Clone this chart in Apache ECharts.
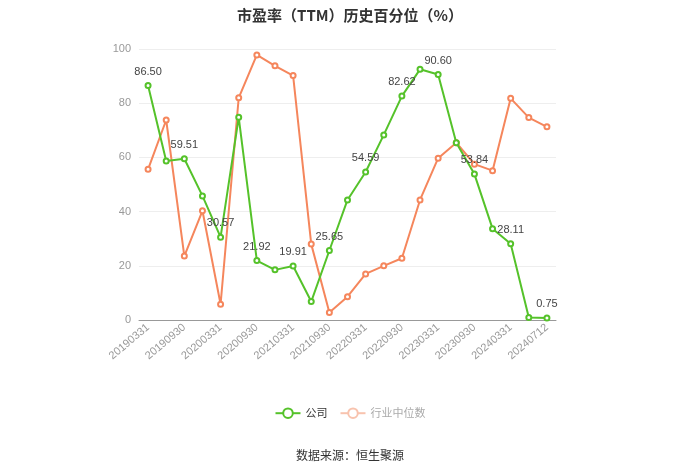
<!DOCTYPE html>
<html>
<head>
<meta charset="utf-8">
<script src="https://cdn.jsdelivr.net/npm/echarts@6/dist/echarts.min.js"></script>
<style>
  html, body { margin: 0; padding: 0; background: #fff; }
  #main { width: 700px; height: 474px; }
</style>
</head>
<body>
<div id="main"></div>
<script>
var dates = ['20190331','20190630','20190930','20191231','20200331','20200630','20200930','20201231',
  '20210331','20210630','20210930','20211231','20220331','20220630','20220930','20221231',
  '20230331','20230630','20230930','20231231','20240331','20240630','20240712'];
var company = [86.50, 58.7, 59.51, 45.8, 30.57, 74.8, 21.92, 18.5, 19.91, 6.8, 25.65, 44.3,
  54.59, 68.3, 82.62, 92.5, 90.60, 65.4, 53.84, 33.7, 28.11, 0.9, 0.75];
var industry = [55.6, 73.8, 23.6, 40.3, 5.8, 82.0, 97.8, 93.8, 90.2, 28.0, 2.8, 8.6,
  17.0, 20.0, 22.8, 44.3, 59.7, 65.4, 57.5, 55.1, 81.8, 74.7, 71.3];
var yTicks = [0, 20, 40, 60, 80, 100];

var chart = echarts.init(document.getElementById('main'));

var option = {
  backgroundColor: '#fff',
  title: {
    text: '市盈率（TTM）历史百分位（%）',
    left: 'center',
    top: 3,
    textStyle: { fontSize: 15, fontWeight: 'bold', color: '#333', fontFamily: 'Noto Sans CJK SC' }
  },
  legend: {
    bottom: 50,
    left: 'center',
    itemWidth: 25,
    itemHeight: 12,
    itemGap: 12,
    textStyle: { fontSize: 11, color: '#333', fontFamily: 'Noto Sans CJK SC' },
    data: [
      { name: '公司' },
      { name: '行业中位数', textStyle: { color: '#aaa' },
        itemStyle: { color: '#f8c3ae', borderColor: '#f8c3ae' },
        lineStyle: { color: '#f8c3ae' } }
    ]
  },
  graphic: [{
    type: 'text',
    left: 'center',
    top: 449,
    style: { text: '数据来源：恒生聚源', fontSize: 12, fill: '#333', fontFamily: 'Noto Sans CJK SC' }
  }],
  grid: { left: 139, right: 144, top: 49, bottom: 154 },
  xAxis: {
    type: 'category',
    data: dates,
    boundaryGap: true,
    axisLine: { lineStyle: { color: '#999' } },
    axisTick: { alignWithLabel: true, interval: 1, lineStyle: { color: '#999' } },
    axisLabel: { interval: 1, rotate: 40, color: '#999', fontSize: 11, margin: 6 }
  },
  yAxis: {
    type: 'value',
    min: yTicks[0],
    max: yTicks[yTicks.length - 1],
    interval: 20,
    axisLine: { show: false },
    axisTick: { show: false },
    axisLabel: { color: '#999', fontSize: 11 },
    splitLine: { lineStyle: { color: '#eee' } }
  },
  series: [
    {
      name: '公司',
      type: 'line',
      data: company,
      symbol: 'emptyCircle',
      symbolSize: 5,
      color: '#55c22a',
      lineStyle: { width: 2, color: '#55c22a' },
      label: {
        show: true,
        position: 'top',
        color: '#444',
        fontSize: 11,
        formatter: function (p) { return p.dataIndex % 2 === 0 ? p.value.toFixed(2) : ''; }
      },
      z: 3
    },
    {
      name: '行业中位数',
      type: 'line',
      data: industry,
      symbol: 'emptyCircle',
      symbolSize: 5,
      color: '#f5865c',
      lineStyle: { width: 2, color: '#f5865c' },
      z: 2
    }
  ]
};

chart.setOption(option);
</script>
</body>
</html>
